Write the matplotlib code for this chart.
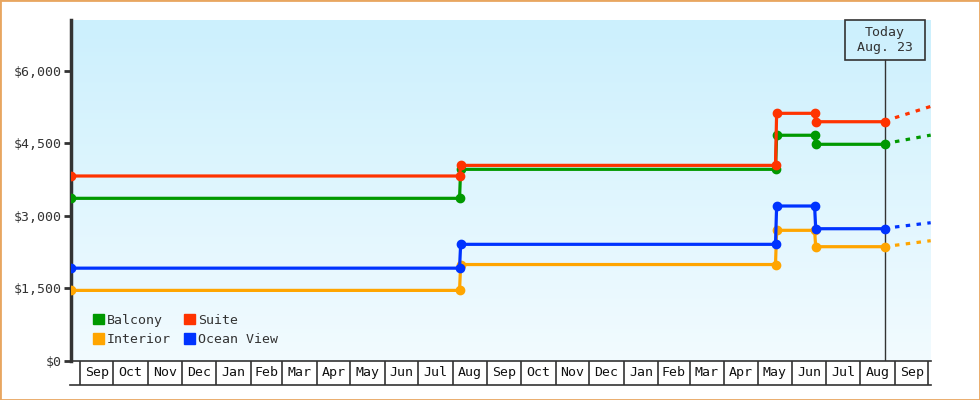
import numpy as np
import pandas as pd
import matplotlib
matplotlib.use("Agg")
from matplotlib import pyplot as plt
from matplotlib import patches as mpatches
from matplotlib.colors import LinearSegmentedColormap

# price snapshots (old price on the last day, new price on the next day)
dates = pd.to_datetime(['2021-08-24', '2022-08-07', '2022-08-08', '2023-05-17',
                        '2023-05-18', '2023-06-21', '2023-06-22', '2023-08-23'])
balcony = [3360, 3360, 3960, 3960, 4665, 4665, 4478, 4478]
suite = [3822, 3822, 4042, 4042, 5119, 5119, 4945, 4945]
interior = [1455, 1455, 1990, 1990, 2698, 2698, 2359, 2359]
ocean_view = [1915, 1915, 2408, 2408, 3201, 3201, 2731, 2731]

# projection after today
proj_dates = pd.to_datetime(['2023-09-01', '2023-10-03'])
balcony_proj = [4531, 4668]
suite_proj = [5028, 5262]
interior_proj = [2388, 2483]
ocean_view_proj = [2766, 2855]

today = pd.Timestamp('2023-08-23')
today_label = "Today\nAug. 23"
month_edges = pd.date_range('2021-09-01', '2023-10-01', freq='MS')
y_ticks = [0, 1500, 3000, 4500, 6000]

series = [
    ('Balcony', balcony, balcony_proj, '#009900'),
    ('Suite', suite, suite_proj, '#ff3300'),
    ('Interior', interior, interior_proj, '#ffa500'),
    ('Ocean View', ocean_view, ocean_view_proj, '#0033ff'),
]

plt.rcParams['font.family'] = 'DejaVu Sans Mono'
dark = '#333333'

fig = plt.figure(figsize=(9.8, 4), dpi=100)
ax = fig.add_axes([71 / 980, 39.3 / 400, 859.7 / 980, 340.7 / 400])

# gradient background
grad = LinearSegmentedColormap.from_list('bg', ['#f2fbff', '#ccf0fd'])
ax.imshow(np.linspace(1, 0, 256).reshape(-1, 1), cmap=grad, extent=[0, 1, 0, 1],
          transform=ax.transAxes, aspect='auto', zorder=0)

for name, vals, proj, c in series:
    ax.plot(dates, vals, '-', color=c, lw=2.3, marker='o', ms=6, zorder=4, solid_joinstyle='miter')
    ax.plot(proj_dates, proj, color=c, lw=2.3, dashes=(1.4, 2.0), zorder=4)

ax.set_xlim(pd.Timestamp('2021-08-24'), pd.Timestamp('2023-10-03'))
ax.set_ylim(0, 7050)

# today marker
box_h = 40 / 340.7
ax.plot([today, today], [0, 1 - box_h], color=dark, lw=1, transform=ax.get_xaxis_transform(), zorder=3)
ax.add_patch(mpatches.Rectangle((today - pd.Timedelta(days=36), 1 - box_h), pd.Timedelta(days=72), box_h,
                                transform=ax.get_xaxis_transform(), fill=False, ec=dark, lw=1.2,
                                zorder=5, clip_on=False))
ax.text(today, 1 - box_h / 2, today_label, transform=ax.get_xaxis_transform(), ha='center', va='center',
        fontsize=9.5, color=dark, linespacing=1.25, zorder=6)

# spines / y axis
for s in ['top', 'right']:
    ax.spines[s].set_visible(False)
ax.spines['left'].set_color(dark)
ax.spines['left'].set_linewidth(2.5)
ax.spines['bottom'].set_color(dark)
ax.spines['bottom'].set_linewidth(1.2)
ax.set_yticks(y_ticks)
ax.set_yticklabels(['${:,}'.format(v) for v in y_ticks])
ax.tick_params(axis='y', length=5, width=2, color=dark, labelcolor=dark, labelsize=9.5, pad=2)
ax.set_xticks([])

# month boxes under the axis
row_h = 24 / 340.7
ax.vlines(month_edges, -row_h, 0, colors=dark, lw=1.2, transform=ax.get_xaxis_transform(), clip_on=False)
ax.plot([-0.001, 1], [-row_h, -row_h], color=dark, lw=1.2, transform=ax.transAxes, clip_on=False)
mids = month_edges[:-1] + (month_edges[1:] - month_edges[:-1]) / 2
for m, d in zip(mids, month_edges[:-1]):
    ax.text(m, -row_h / 2, d.strftime('%b'), transform=ax.get_xaxis_transform(), ha='center', va='center',
            fontsize=9.5, color='#111111', clip_on=False)

# legend, filled row by row: Balcony / Suite, Interior / Ocean View
handles = [mpatches.Patch(color=c, label=n) for n, v, p, c in series]
handles = [handles[0], handles[2], handles[1], handles[3]]
ax.legend(handles=handles, ncol=2, loc='lower left', bbox_to_anchor=(0.012, 0.008), frameon=False,
          fontsize=9.5, handlelength=0.85, handleheight=0.85, handletextpad=0.2, columnspacing=1.0,
          labelspacing=0.5, labelcolor=dark)

# outer border
fig.patches.append(mpatches.Rectangle((0, 0), 1, 1, transform=fig.transFigure, fill=False,
                                      ec='#e8a660', lw=2))

fig.savefig('out.png', dpi=100)
